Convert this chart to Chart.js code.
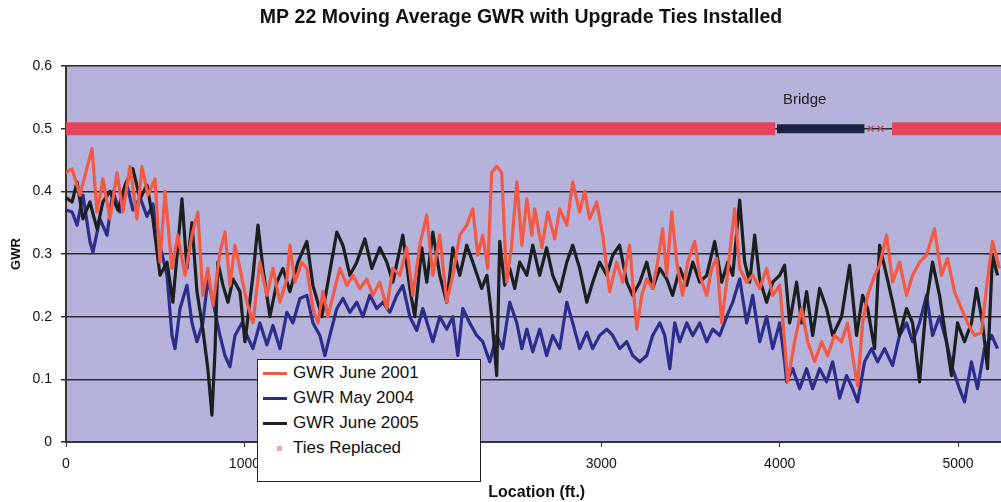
<!DOCTYPE html>
<html><head><meta charset="utf-8">
<script src="https://cdn.jsdelivr.net/npm/chart.js@4.4.1/dist/chart.umd.min.js"></script>
<style>
html,body{margin:0;padding:0;background:#fff;}
#wrap{position:relative;width:1001px;height:502px;overflow:hidden;}
#c{position:absolute;left:0;top:0;}
#legend{position:absolute;left:257px;top:359px;width:222px;height:121px;background:#fff;border:1px solid #222;font-family:"Liberation Sans",Arial,sans-serif;font-size:17px;color:#111;}
.row{position:absolute;left:0;width:220px;height:20px;line-height:20px;}
.sw{position:absolute;left:5px;top:9px;width:24px;height:3px;}
.mk{position:absolute;left:19px;top:8px;width:5px;height:5px;background:#f3a3b3;}
.lbl{position:absolute;left:35px;top:0;white-space:nowrap;}
</style>
</head><body>
<div id="wrap">
<canvas id="c" width="1013" height="502"></canvas>
<div id="legend">
 <div class="row" style="top:3px"><div class="sw" style="background:#f25a45"></div><span class="lbl">GWR June 2001</span></div>
 <div class="row" style="top:28px"><div class="sw" style="background:#2c2d8a"></div><span class="lbl">GWR May 2004</span></div>
 <div class="row" style="top:53px"><div class="sw" style="background:#1b1f1f"></div><span class="lbl">GWR June 2005</span></div>
 <div class="row" style="top:78px"><div class="mk"></div><span class="lbl">Ties Replaced</span></div>
</div>
</div>
<script>
// ---- data: [location ft, GWR] ----
const gwr2001 = [[0,0.43],[34,0.436],[78,0.394],[146,0.468],[174,0.367],[207,0.42],[246,0.356],[286,0.43],[319,0.367],[359,0.44],[398,0.356],[426,0.44],[459,0.394],[499,0.42],[527,0.287],[555,0.40],[594,0.277],[627,0.33],[667,0.266],[706,0.33],[739,0.367],[767,0.234],[795,0.277],[824,0.218],[863,0.303],[891,0.335],[919,0.25],[947,0.314],[975,0.277],[1014,0.223],[1048,0.19],[1087,0.287],[1126,0.234],[1160,0.277],[1199,0.223],[1238,0.26],[1255,0.314],[1283,0.255],[1322,0.287],[1350,0.277],[1384,0.213],[1412,0.19],[1440,0.24],[1468,0.2],[1507,0.245],[1535,0.277],[1574,0.25],[1608,0.266],[1647,0.245],[1686,0.26],[1720,0.234],[1759,0.255],[1798,0.213],[1832,0.277],[1871,0.266],[1910,0.31],[1944,0.234],[1983,0.314],[2022,0.362],[2056,0.266],[2095,0.33],[2134,0.223],[2168,0.266],[2207,0.33],[2246,0.346],[2280,0.372],[2308,0.298],[2336,0.33],[2364,0.277],[2386,0.43],[2414,0.44],[2442,0.43],[2470,0.255],[2498,0.314],[2527,0.415],[2555,0.314],[2583,0.388],[2611,0.33],[2627,0.372],[2667,0.31],[2700,0.367],[2739,0.324],[2767,0.372],[2807,0.346],[2840,0.415],[2879,0.367],[2907,0.40],[2935,0.356],[2975,0.383],[3008,0.33],[3047,0.24],[3087,0.287],[3120,0.255],[3159,0.314],[3199,0.18],[3227,0.234],[3255,0.26],[3288,0.245],[3316,0.287],[3344,0.34],[3367,0.266],[3395,0.367],[3423,0.287],[3456,0.234],[3484,0.287],[3524,0.32],[3552,0.266],[3591,0.234],[3619,0.277],[3647,0.293],[3675,0.19],[3703,0.255],[3731,0.33],[3748,0.372],[3776,0.277],[3815,0.255],[3849,0.266],[3888,0.245],[3927,0.277],[3961,0.234],[4000,0.25],[4028,0.16],[4045,0.096],[4084,0.16],[4123,0.213],[4157,0.16],[4196,0.128],[4235,0.16],[4269,0.138],[4308,0.17],[4347,0.16],[4381,0.19],[4420,0.117],[4437,0.09],[4465,0.19],[4493,0.234],[4532,0.266],[4560,0.282],[4599,0.33],[4633,0.255],[4672,0.287],[4711,0.234],[4745,0.266],[4784,0.287],[4823,0.298],[4868,0.34],[4907,0.266],[4941,0.293],[4980,0.24],[5019,0.213],[5053,0.19],[5092,0.17],[5131,0.175],[5165,0.26],[5193,0.32],[5232,0.277]];

const gwr2004 = [[0,0.37],[34,0.367],[62,0.346],[95,0.394],[134,0.32],[151,0.303],[190,0.356],[230,0.33],[263,0.40],[302,0.367],[342,0.41],[375,0.37],[415,0.39],[454,0.36],[487,0.38],[527,0.314],[566,0.266],[594,0.17],[611,0.149],[639,0.213],[678,0.25],[706,0.19],[734,0.16],[767,0.19],[795,0.26],[824,0.223],[863,0.17],[891,0.138],[919,0.12],[947,0.17],[986,0.19],[1014,0.17],[1048,0.149],[1087,0.19],[1126,0.155],[1160,0.186],[1199,0.149],[1238,0.207],[1272,0.19],[1311,0.229],[1350,0.234],[1384,0.19],[1423,0.17],[1451,0.138],[1479,0.17],[1518,0.213],[1552,0.229],[1591,0.207],[1630,0.223],[1664,0.2],[1703,0.234],[1742,0.213],[1776,0.223],[1815,0.207],[1854,0.234],[1888,0.25],[1927,0.2],[1966,0.178],[2000,0.213],[2056,0.16],[2095,0.2],[2134,0.18],[2168,0.2],[2196,0.138],[2224,0.213],[2263,0.19],[2302,0.17],[2336,0.16],[2375,0.128],[2414,0.17],[2448,0.149],[2487,0.223],[2527,0.19],[2555,0.149],[2583,0.18],[2616,0.144],[2655,0.18],[2694,0.138],[2728,0.17],[2767,0.149],[2807,0.223],[2840,0.19],[2879,0.149],[2919,0.175],[2952,0.149],[2991,0.17],[3031,0.18],[3064,0.17],[3103,0.149],[3143,0.16],[3176,0.138],[3216,0.128],[3255,0.138],[3288,0.17],[3328,0.19],[3356,0.17],[3384,0.117],[3412,0.19],[3440,0.16],[3479,0.19],[3513,0.17],[3552,0.19],[3591,0.16],[3625,0.18],[3664,0.17],[3703,0.2],[3737,0.223],[3776,0.26],[3815,0.19],[3849,0.234],[3888,0.16],[3927,0.2],[3961,0.149],[4000,0.19],[4028,0.128],[4039,0.096],[4073,0.117],[4112,0.085],[4151,0.117],[4185,0.085],[4224,0.117],[4263,0.096],[4297,0.128],[4336,0.07],[4375,0.106],[4409,0.085],[4437,0.064],[4476,0.128],[4515,0.149],[4549,0.128],[4588,0.149],[4633,0.122],[4672,0.17],[4711,0.19],[4745,0.16],[4784,0.19],[4823,0.234],[4857,0.17],[4896,0.2],[4935,0.16],[4969,0.117],[5008,0.085],[5036,0.064],[5075,0.128],[5109,0.085],[5148,0.149],[5188,0.17],[5221,0.149]];

const gwr2005 = [[0,0.39],[34,0.383],[62,0.415],[95,0.356],[134,0.383],[174,0.34],[207,0.383],[246,0.40],[291,0.37],[331,0.41],[375,0.436],[415,0.388],[454,0.41],[487,0.356],[527,0.266],[566,0.287],[599,0.223],[650,0.388],[678,0.277],[706,0.35],[734,0.24],[767,0.18],[795,0.117],[818,0.043],[835,0.144],[851,0.287],[880,0.25],[908,0.223],[936,0.26],[975,0.24],[1003,0.16],[1048,0.266],[1076,0.346],[1104,0.277],[1143,0.2],[1182,0.255],[1216,0.277],[1255,0.24],[1300,0.287],[1350,0.32],[1384,0.25],[1434,0.2],[1468,0.255],[1518,0.335],[1552,0.314],[1591,0.266],[1630,0.287],[1675,0.324],[1714,0.277],[1759,0.31],[1798,0.287],[1832,0.255],[1888,0.33],[1927,0.245],[1955,0.2],[1994,0.31],[2022,0.255],[2056,0.335],[2095,0.266],[2134,0.223],[2168,0.31],[2207,0.266],[2246,0.314],[2280,0.287],[2330,0.245],[2359,0.266],[2386,0.2],[2414,0.106],[2431,0.32],[2459,0.25],[2487,0.277],[2515,0.245],[2543,0.287],[2583,0.266],[2616,0.314],[2655,0.266],[2694,0.31],[2728,0.266],[2767,0.24],[2807,0.287],[2840,0.314],[2879,0.277],[2919,0.223],[2952,0.255],[2991,0.287],[3031,0.266],[3064,0.298],[3103,0.314],[3143,0.255],[3176,0.234],[3216,0.255],[3255,0.287],[3288,0.245],[3328,0.277],[3367,0.26],[3400,0.234],[3440,0.277],[3479,0.25],[3513,0.287],[3552,0.255],[3591,0.266],[3636,0.32],[3675,0.255],[3709,0.287],[3737,0.266],[3776,0.386],[3804,0.287],[3832,0.255],[3860,0.33],[3888,0.26],[3927,0.223],[3961,0.255],[4000,0.266],[4028,0.282],[4056,0.19],[4095,0.255],[4123,0.19],[4151,0.24],[4185,0.17],[4224,0.245],[4263,0.213],[4297,0.17],[4347,0.2],[4392,0.282],[4431,0.17],[4465,0.234],[4493,0.213],[4532,0.149],[4560,0.314],[4599,0.266],[4633,0.223],[4672,0.17],[4711,0.213],[4745,0.19],[4784,0.096],[4823,0.223],[4857,0.287],[4896,0.234],[4935,0.16],[4963,0.106],[4997,0.19],[5036,0.16],[5075,0.19],[5103,0.245],[5137,0.19],[5165,0.117],[5193,0.298],[5221,0.266]];

// Ties replaced band (start/end ft) at GWR 0.5
const tiesLevel = 0.5;
const tiesStart = [0, 4630];
const tiesEnd   = [3975, 5400];
const tiesMarks = [4510, 4565];
// Bridge
const bridgeSpan = [3985, 4475];
const bridgeLabel = 'Bridge';
const bridgeLabelAt = [4140, 0.546];

const seriesNames = ['GWR June 2001','GWR May 2004','GWR June 2005','Ties Replaced'];
const xTicks = [0, 1000, 2000, 3000, 4000, 5000];
const yTicks = [0, 0.1, 0.2, 0.3, 0.4, 0.5, 0.6];
const yTickLabels = ['0','0.1','0.2','0.3','0.4','0.5','0.6'];
const xMin = 0, xMax = 5277, yMin = 0, yMax = 0.6;
const chartTitle = 'MP 22 Moving Average GWR with Upgrade Ties Installed';

const FAM = '"Liberation Sans", Arial, Helvetica, sans-serif';
const toXY = a => a.map(p => ({x:p[0], y:p[1]}));
const tiesData = [];
tiesStart.forEach((s,i)=>{ tiesData.push({x:s,y:tiesLevel},{x:tiesEnd[i],y:tiesLevel},{x:tiesEnd[i]+1,y:null}); });

const bgPlugin = {
  id:'bg',
  beforeDraw(chart){
    const {ctx, chartArea:a} = chart;
    ctx.save(); ctx.fillStyle = '#b5b3dc';
    ctx.fillRect(a.left, a.top, a.right-a.left, a.bottom-a.top);
    ctx.restore();
  },
  afterDatasetsDraw(chart){
    const {ctx, scales} = chart;
    ctx.save();
    ctx.font = '15px ' + FAM; ctx.fillStyle = '#222';
    ctx.textAlign = 'center'; ctx.textBaseline = 'middle';
    ctx.fillText(bridgeLabel, scales.x.getPixelForValue(bridgeLabelAt[0]), scales.y.getPixelForValue(bridgeLabelAt[1]));
    ctx.restore();
  },
  afterDraw(chart){
    const {ctx, chartArea:a} = chart;
    ctx.save();
    ctx.font = 'bold 19.5px ' + FAM; ctx.fillStyle = '#111';
    ctx.textAlign = 'center'; ctx.textBaseline = 'middle';
    ctx.fillText(chartTitle, 521, 18);
    ctx.translate(16, (a.top+a.bottom)/2);
    ctx.rotate(-Math.PI/2);
    ctx.font = 'bold 13px ' + FAM;
    ctx.fillText('GWR', 0, 0);
    ctx.restore();
  }
};

new Chart(document.getElementById('c'), {
  type:'line',
  data:{ datasets:[
    {label:seriesNames[0], data:toXY(gwr2001), borderColor:'#f25a45', borderWidth:3.2, pointRadius:0, order:1, borderJoinStyle:'round'},
    {label:seriesNames[2], data:toXY(gwr2005), borderColor:'#1b1f1f', borderWidth:3.2, pointRadius:0, order:2, borderJoinStyle:'round'},
    {label:seriesNames[1], data:toXY(gwr2004), borderColor:'#2c2d8a', borderWidth:3.2, pointRadius:0, order:3, borderJoinStyle:'round'},
    {label:seriesNames[3], data:tiesData, borderColor:'#e2465c', borderWidth:13, pointRadius:0, order:4, spanGaps:false, borderCapStyle:'butt'},
    {label:'Bridge', data:[{x:bridgeSpan[0],y:tiesLevel},{x:bridgeSpan[1],y:tiesLevel}], borderColor:'#1d2242', borderWidth:9, pointRadius:0, order:5},
    {label:'marks', data:tiesMarks.map(x=>({x, y:tiesLevel})), showLine:false, pointStyle:'crossRot', pointRadius:4, borderWidth:1.5, borderColor:'#c94a60', order:6}
  ]},
  options:{
    responsive:false, animation:false, devicePixelRatio:1,
    layout:{padding:{left:0,right:2,top:66,bottom:0}},
    plugins:{ legend:{display:false}, tooltip:{enabled:false}, title:{display:false} },
    scales:{
      x:{type:'linear', min:xMin, max:xMax,
        afterFit(s){ s.height = 60; },
        afterBuildTicks(s){ s.ticks = xTicks.map(v=>({value:v})); },
        ticks:{autoSkip:false, maxRotation:0, color:'#111', padding:9,
          font:{family:FAM,size:14}, callback:v=>String(v)},
        grid:{drawOnChartArea:false, drawTicks:true, tickLength:5, color:'#333'},
        border:{display:true, color:'#333', width:2},
        title:{display:true, text:'Location (ft.)', color:'#111', font:{family:FAM,size:16,weight:'bold'}, padding:{top:0,bottom:0}}
      },
      y:{min:yMin, max:yMax,
        afterFit(s){ s.width = 66; },
        afterBuildTicks(s){ s.ticks = yTicks.map(v=>({value:v})); },
        ticks:{color:'#111', padding:9, font:{family:FAM,size:14},
          callback:(v,i)=> yTickLabels[yTicks.indexOf(+(+v).toFixed(1))] ?? String(v)},
        grid:{color:'#2a2a2a', lineWidth:1.5, tickLength:5, drawTicks:true},
        border:{display:true, color:'#333', width:2}
      }
    }
  },
  plugins:[bgPlugin]
});
</script>
</body></html>
